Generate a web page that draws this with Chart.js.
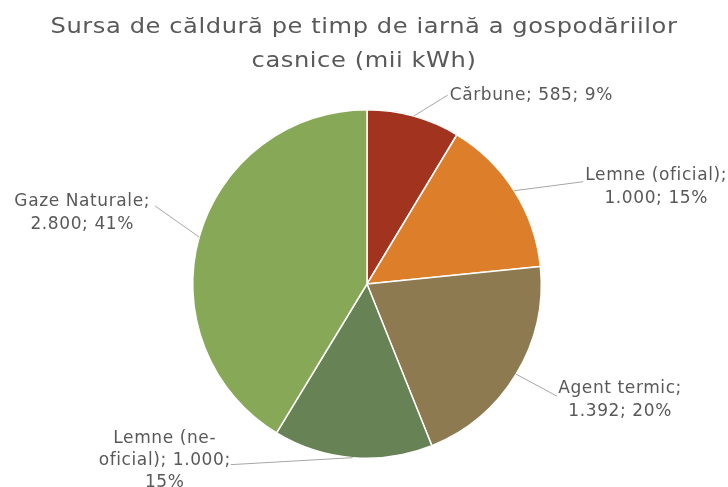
<!DOCTYPE html>
<html>
<head>
<meta charset="utf-8">
<script src="https://cdn.jsdelivr.net/npm/chart.js@4/dist/chart.umd.min.js"></script>
<style>
  html, body { margin: 0; padding: 0; background: #fff; }
  #wrap { width: 728px; height: 487px; }
</style>
</head>
<body>
<div id="wrap"><canvas id="myChart" width="728" height="487"></canvas></div>
<script>
// Title lines
var titleLines = ["Sursa de căldură pe timp de iarnă a gospodăriilor", "casnice (mii kWh)"];
// Slices, clockwise from 12 o'clock
var sources = ["Cărbune", "Lemne (oficial)", "Agent termic", "Lemne (ne-oficial)", "Gaze Naturale"];
var valueText = ["585", "1.000", "1.392", "1.000", "2.800"];
var values = [585, 1000, 1392, 1000, 2800];
var percents = ["9%", "15%", "20%", "15%", "41%"];
// Label text as wrapped in the picture
var labelLines = [
  ["Cărbune; 585; 9%"],
  ["Lemne (oficial);", "1.000; 15%"],
  ["Agent termic;", "1.392; 20%"],
  ["Lemne (ne-", "oficial); 1.000;", "15%"],
  ["Gaze Naturale;", "2.800; 41%"]
];
var colors = ["#a2331f", "#dc7e2a", "#8e7a50", "#678255", "#87a856"];

// label placement: leader end offset from slice edge, text block position relative to leader end
var labelPos = [
  { dx: 34, dy: -21, tx: 2, ty: 0, align: "left" },
  { dx: 69, dy: -9, tx: 73, ty: -6, align: "center" },
  { dx: 41, dy: 22, tx: 63, ty: -8, align: "center" },
  { dx: -122, dy: 7, tx: -66, ty: -26, align: "center" },
  { dx: -44, dy: -31, tx: -73, ty: -4, align: "center" }
];

var textColor = "#595959";
var fontFamily = "'DejaVu Sans', sans-serif";

var excelLabels = {
  id: "excelLabels",
  afterDraw: function (chart) {
    var ctx = chart.ctx;
    ctx.save();
    ctx.fillStyle = textColor;
    ctx.textBaseline = "middle";
    ctx.textAlign = "center";
    // title: stretched a little to get the wide look of the original face
    ctx.save();
    ctx.translate(364, 0);
    ctx.scale(1.15, 1);
    ctx.font = "21px " + fontFamily;
    ctx.letterSpacing = "0.5px";
    ctx.fillText(titleLines[0], 0, 28);
    ctx.fillText(titleLines[1], 0, 62);
    ctx.restore();

    var arcs = chart.getDatasetMeta(0).data;
    ctx.font = "17px " + fontFamily;
    ctx.letterSpacing = "0.6px";
    arcs.forEach(function (arc, i) {
      var p = arc.getProps(["x", "y", "startAngle", "endAngle", "outerRadius"], true);
      var mid = (p.startAngle + p.endAngle) / 2;
      var ex = p.x + Math.cos(mid) * p.outerRadius;
      var ey = p.y + Math.sin(mid) * p.outerRadius;
      var lp = labelPos[i];
      var lx = ex + lp.dx, ly = ey + lp.dy;
      ctx.strokeStyle = "#a6a6a6";
      ctx.lineWidth = 1;
      ctx.beginPath();
      ctx.moveTo(ex, ey);
      ctx.lineTo(lx, ly);
      ctx.stroke();
      ctx.textAlign = lp.align;
      var lines = labelLines[i];
      for (var k = 0; k < lines.length; k++) {
        var step = lines.length === 3 ? 22 : 23;
        ctx.fillText(lines[k], lx + lp.tx, ly + lp.ty + k * step);
      }
    });
    ctx.restore();
  }
};

var ctx = document.getElementById("myChart");
var myChart = new Chart(ctx, {
  type: "pie",
  data: {
    labels: sources,
    datasets: [{
      data: values,
      backgroundColor: colors,
      borderColor: "#ffffff",
      borderWidth: 1.5,
      hoverOffset: 0
    }]
  },
  options: {
    responsive: false,
    animation: false,
    layout: { padding: { left: 192, right: 186, top: 109, bottom: 28 } },
    plugins: {
      legend: { display: false },
      tooltip: { enabled: false },
      title: { display: false }
    }
  },
  plugins: [excelLabels]
});
</script>
</body>
</html>
